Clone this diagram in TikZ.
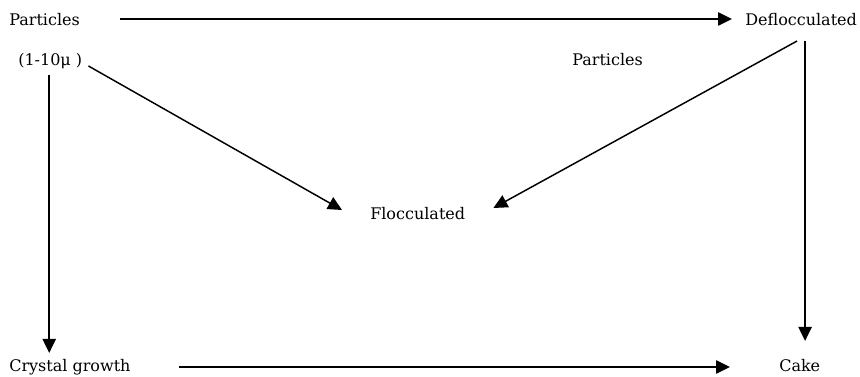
\documentclass[tikz,border=0pt]{standalone}
\usepackage{fontspec}
\setmainfont{DejaVu Serif}
\usepackage{tikz}
\usetikzlibrary{arrows.meta, positioning, calc}
\tikzset{
  term/.style={
    inner sep=0pt,
    anchor=base west,
    font=\fontsize{12pt}{14pt}\selectfont
  },
  arrow/.style={
    line width=1.1pt,
    -{Triangle[length=10.5pt, width=10pt]}
  }
}

\begin{document}
\begin{tikzpicture}[x=0.75pt, y=-0.75pt]
\useasboundingbox (0,0) rectangle (860,377);

% Nodes
\node (part) [term] at (9,26) {Particles};
\node (size) [term] at (18,66) {(1-10μ )};
\node (partb) [term] at (572,66) {Particles};
\node (defl) [term] at (745,26) {Deflocculated};
\node (floc) [term] at (370,220) {Flocculated};
\node (cryst) [term] at (9,372) {Crystal growth};
\node (cake) [term] at (779,372) {Cake};

% Arrows
\draw [arrow] ([shift={(40,-7)}]part.base east) -- ([shift={(-13,-7)}]defl.base west);
\draw [arrow] ([shift={(6,0)}]size.base east) -- ([shift={(-28,-10)}]floc.base west);
\draw [arrow] ([shift={(-4,15)}]defl.base) -- ([shift={(28,-12)}]floc.base east);
\draw [arrow, shorten >=14pt] ([shift={(4,15)}]defl.base) coordinate (dtop) -- (dtop |- cake.north);
\draw [arrow, shorten >=5pt] ([shift={(-1,9)}]size.base) coordinate (stop) -- (stop |- cryst.north);
\draw [arrow] ([shift={(48,-5)}]cryst.base east) -- ([shift={(-49,-5)}]cake.base west);
\end{tikzpicture}
\end{document}
